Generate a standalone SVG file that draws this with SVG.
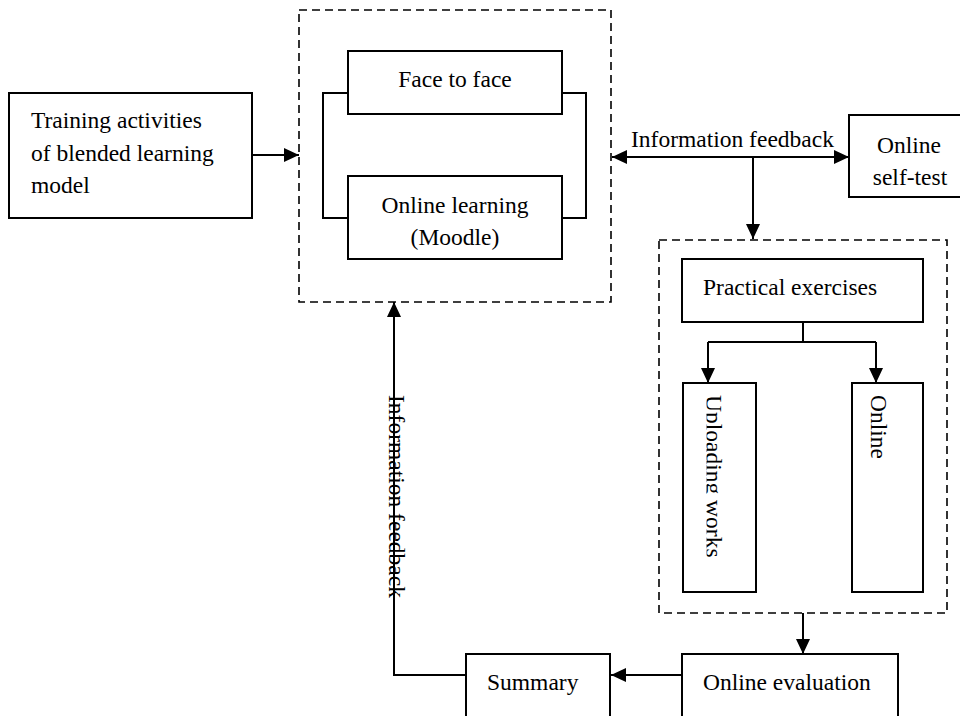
<svg xmlns="http://www.w3.org/2000/svg" width="960" height="716" viewBox="0 0 960 716">
<style>
.box{fill:#fff;stroke:#000;stroke-width:2}
.dash{fill:none;stroke:#000;stroke-width:1.6;stroke-dasharray:8 5}
.ln{fill:none;stroke:#000;stroke-width:2}
text{font-family:"Liberation Serif","Times New Roman",serif;font-size:23.5px;fill:#000}
.c{text-anchor:middle}
</style>
<defs>
<marker id="arr" viewBox="0 0 15 14" refX="15" refY="7" markerWidth="15" markerHeight="14" markerUnits="userSpaceOnUse" orient="auto-start-reverse">
<path d="M0,0 L15,7 L0,14 z" fill="#000"/>
</marker>
<clipPath id="clipUp" clipPathUnits="userSpaceOnUse"><rect x="706.5" y="385" width="48" height="205"/></clipPath>
</defs>
<rect width="960" height="716" fill="#fff"/>

<g id="training">
<rect class="box" x="9" y="93" width="243" height="125"/>
<text x="31" y="128">Training activities</text>
<text x="31" y="161">of blended learning</text>
<text x="31" y="193">model</text>
</g>

<g id="blend-group">
<rect class="dash" x="299" y="10" width="312" height="292"/>
<path class="ln" d="M348,93 H323 V218 H348 M562,93 H586 V218 H562"/>
</g>
<g id="face">
<rect class="box" x="348" y="51" width="214" height="63"/>
<text class="c" x="455" y="87">Face to face</text>
</g>
<g id="online-learning">
<rect class="box" x="348" y="176" width="214" height="83"/>
<text class="c" x="455" y="213">Online learning</text>
<text class="c" x="455" y="245">(Moodle)</text>
</g>

<g id="selftest">
<rect class="box" x="849" y="115" width="120" height="82"/>
<text class="c" x="909" y="153">Online</text>
<text class="c" x="910" y="185">self-test</text>
</g>

<g id="practice-group">
<rect class="dash" x="659" y="240" width="288" height="373"/>
</g>
<g id="practical">
<rect class="box" x="682" y="259" width="241" height="63"/>
<text x="703" y="295">Practical exercises</text>
</g>
<g id="uploading">
<rect class="box" x="683" y="383" width="73" height="209"/>
<g clip-path="url(#clipUp)">
<text transform="translate(706,395) rotate(90)">Uploading works</text>
</g>
</g>
<g id="online">
<rect class="box" x="852" y="383" width="71" height="209"/>
<text transform="translate(871,395) rotate(90)">Online</text>
</g>

<g id="evaluation">
<rect class="box" x="682" y="654" width="216" height="80"/>
<text x="703" y="690">Online evaluation</text>
</g>
<g id="summary">
<rect class="box" x="466" y="654" width="144" height="80"/>
<text x="487" y="690">Summary</text>
</g>

<g id="connectors">
<path class="ln" d="M252,155 H299" marker-end="url(#arr)"/>
<path class="ln" d="M612,157 H849" marker-start="url(#arr)" marker-end="url(#arr)"/>
<path class="ln" d="M753,157 V239" marker-end="url(#arr)"/>
<path class="ln" d="M803,322 V342 M708,342 H876"/>
<path class="ln" d="M708,342 V383" marker-end="url(#arr)"/>
<path class="ln" d="M876,342 V383" marker-end="url(#arr)"/>
<path class="ln" d="M803,613 V654" marker-end="url(#arr)"/>
<path class="ln" d="M682,675 H611" marker-end="url(#arr)"/>
<path class="ln" d="M466,675 H394 V302" marker-end="url(#arr)"/>
<text x="631" y="147">Information feedback</text>
<text transform="translate(389,395) rotate(90)">Information feedback</text>
</g>
</svg>
